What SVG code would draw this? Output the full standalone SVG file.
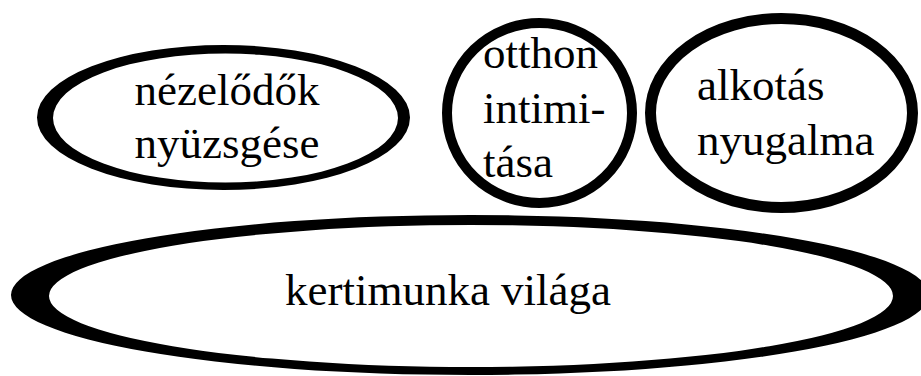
<svg xmlns="http://www.w3.org/2000/svg" width="921" height="376" viewBox="0 0 921 376">
<style>
.ring{fill:#000;fill-rule:evenodd;stroke:none}
.ell{fill:none;stroke:#000}
</style>
<rect width="921" height="376" fill="#fff"/>
<g id="connectors"/>
<g id="node-nezelodok">
<path class="ring" d="M37,117.5 a186.5,72.5 0 1,0 373,0 a186.5,72.5 0 1,0 -373,0 Z M53,118 a172.5,64.5 0 1,0 345,0 a172.5,64.5 0 1,0 -345,0 Z"/>
<g transform="scale(1.25)">
<text x="181.6" y="84" text-anchor="middle" font-size="36" font-family="Liberation Serif">nézelődők</text>
<text x="181.6" y="126.4" text-anchor="middle" font-size="36" font-family="Liberation Serif">nyüzsgése</text>
</g>
</g>
<g id="node-otthon">
<ellipse class="ell" cx="539.5" cy="113" rx="92.5" ry="90" stroke-width="10"/>
<g transform="scale(1.25)">
<text x="386.4" y="54.4" font-size="36" font-family="Liberation Serif">otthon</text>
<text x="386.4" y="98.4" font-size="36" font-family="Liberation Serif">intimi-</text>
<text x="386.4" y="141.6" font-size="36" font-family="Liberation Serif">tása</text>
</g>
</g>
<g id="node-alkotas">
<ellipse class="ell" cx="781.5" cy="113" rx="131" ry="94.5" stroke-width="11"/>
<g transform="scale(1.25)">
<text x="557.6" y="80" font-size="36" font-family="Liberation Serif">alkotás</text>
<text x="557.6" y="124" font-size="36" font-family="Liberation Serif">nyugalma</text>
</g>
</g>
<g id="node-kertimunka">
<path class="ring" d="M11,295 a459,80 0 1,0 918,0 a459,80 0 1,0 -918,0 Z M49,296 a422,71 0 1,0 844,0 a422,71 0 1,0 -844,0 Z"/>
<g transform="scale(1.25)">
<text x="358.4" y="244" text-anchor="middle" font-size="36" font-family="Liberation Serif">kertimunka világa</text>
</g>
</g>
</svg>
